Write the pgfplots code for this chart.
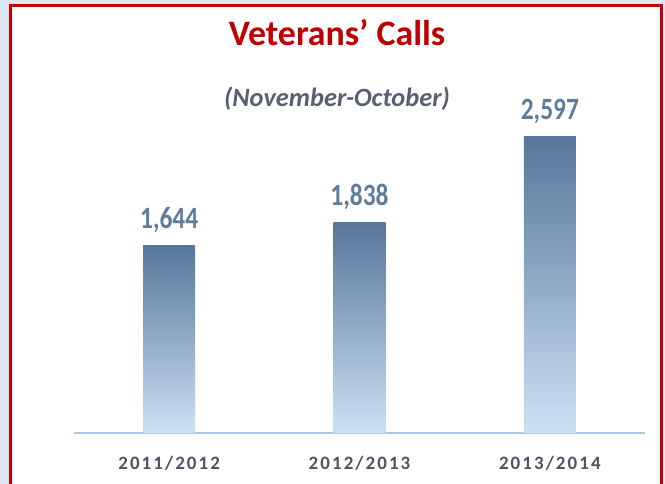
\documentclass[border=0pt]{standalone}
\usepackage{pgfplots}
\pgfplotsset{compat=1.18}
\usepackage{fontspec}
\setmainfont{Carlito}
\definecolor{titlered}{HTML}{C00000}
\definecolor{bgblue}{HTML}{DDE8F4}
\definecolor{subgray}{HTML}{5A6072}
\definecolor{valblue}{HTML}{5E7D9C}
\definecolor{ticklab}{HTML}{4C5363}
\definecolor{bartop}{HTML}{56769A}
\definecolor{barbottom}{HTML}{CDE1F4}
\definecolor{axisblue}{HTML}{A8C8E6}
\begin{document}
\begin{tikzpicture}[x=1bp,y=1bp]
\clip (0,0) rectangle (665,484);
\fill[bgblue] (0,0) rectangle (665,484);
\draw[titlered, line width=3bp, fill=white] (10,-10) rectangle (661,478.5);
\node[anchor=base, text=titlered, font=\fontsize{36}{36}\selectfont\bfseries, inner sep=0] at (337,438) {Veterans’ Calls};
\node[anchor=base, text=subgray, font=\fontsize{26.5}{26.5}\selectfont\bfseries\itshape, inner sep=0] at (337,377) {(November-October)};
\begin{axis}[
  at={(74bp,51bp)}, anchor=south west,
  scale only axis, width=571bp, height=343bp,
  xmin=-0.5, xmax=2.5, ymin=0, ymax=3000,
  axis x line*=bottom, axis y line=none,
  axis line style={draw=axisblue, line width=1.5bp},
  ybar, bar width=52bp, bar shift=0pt,
  xtick={0,1,2}, xticklabels={2011/2012,2012/2013,2013/2014},
  ytick=\empty, major tick length=0pt,
  xticklabel style={anchor=base, yshift=-37bp, inner sep=0, text=ticklab,
    font=\fontsize{19}{19}\selectfont\bfseries\addfontfeature{LetterSpace=11}},
  clip=false,
  every axis plot/.append style={draw=none, top color=bartop, bottom color=barbottom},
  nodes near coords={\scalebox{1}[1.22]{\pgfplotspointmeta}},
  point meta=explicit symbolic,
  every node near coord/.append style={anchor=base, yshift=17bp, inner sep=0,
    text=valblue, font=\fontsize{25.5}{25.5}\selectfont\bfseries},
]
\addplot coordinates {(0,1644) [1,644]};
\addplot coordinates {(1,1838) [1,838]};
\addplot coordinates {(2,2597) [2,597]};
\end{axis}
\end{tikzpicture}
\end{document}
